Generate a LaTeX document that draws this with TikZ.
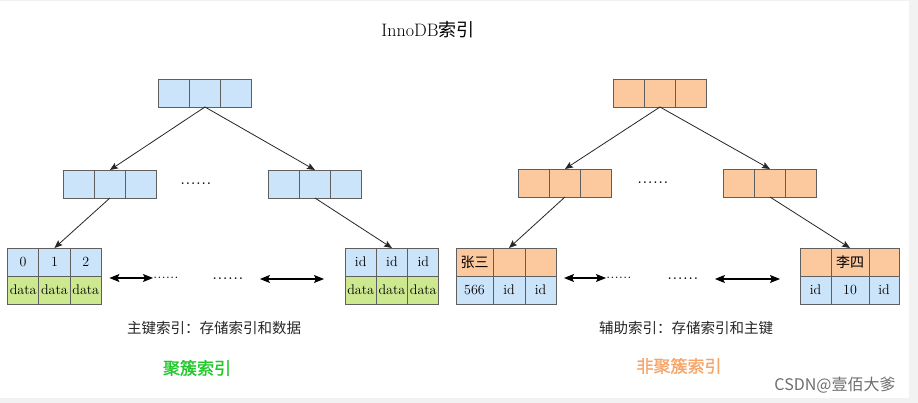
\documentclass[tikz,border=0pt]{standalone}
\usepackage{fontspec}
\newfontfamily\cjk{Noto Sans CJK SC}
\newfontfamily\cjkbold{Noto Sans CJK SC}[FakeBold=1.2]
\usetikzlibrary{arrows.meta,positioning}
\definecolor{idxblue}{RGB}{204,228,250}
\definecolor{idxgreen}{RGB}{205,233,143}
\definecolor{idxorange}{RGB}{252,200,158}
\definecolor{cellline}{RGB}{95,95,95}
\definecolor{labelgreen}{RGB}{30,200,40}
\definecolor{labelorange}{RGB}{246,165,105}
\definecolor{edgegray}{RGB}{242,242,242}
\definecolor{markgray}{RGB}{110,110,110}
\tikzset{
  cell/.style={draw=cellline, line width=0.9pt, minimum width=31.3pt, minimum height=28pt,
    inner sep=0pt, outer sep=0pt, font=\fontsize{14}{16}\selectfont},
  bluecell/.style={cell, fill=idxblue},
  greencell/.style={cell, fill=idxgreen},
  orangecell/.style={cell, fill=idxorange},
  treearrow/.style={->, line width=0.8pt, draw=black!85},
  linkarrow/.style={{Stealth[length=10pt, width=8pt, inset=2pt]}-{Stealth[length=10pt, width=8pt, inset=2pt]}, line width=1.2pt},
  dots/.style={inner sep=0pt, anchor=west, font=\fontsize{21}{21}\selectfont},
  smalldots/.style={inner sep=0pt, anchor=west, font=\fontsize{17}{17}\selectfont},
  caption/.style={inner sep=0pt, font=\cjk\fontsize{14.5}{16}\selectfont, text=black!85}
}
\begin{document}
\begin{tikzpicture}[x=1pt, y=-1pt, >={Stealth[length=8pt, width=6.5pt, inset=1.5pt]}]
        \fill [edgegray] (0, 0) rectangle (918, 403);
        \fill [white] (0, 1.5) rectangle (909, 398);
        \useasboundingbox (0, 0) rectangle (918, 403);

        \node [font=\fontsize{18}{20}\selectfont] (title) at (428, 30) {InnoDB{\cjk 索引}};

        \node [bluecell, anchor=north west] (lt1) at (158, 79) {};
        \node [bluecell, right=0pt of lt1] (lt2) {};
        \node [bluecell, right=0pt of lt2] (lt3) {};

        \node [bluecell, anchor=north west] (lm1) at (63, 170) {};
        \node [bluecell, right=0pt of lm1] (lm2) {};
        \node [bluecell, right=0pt of lm2] (lm3) {};
        \node [dots] (lmdot) at (180, 184) {......};
        \node [bluecell, anchor=north west] (ln1) at (268, 170) {};
        \node [bluecell, right=0pt of ln1] (ln2) {};
        \node [bluecell, right=0pt of ln2] (ln3) {};

        \node [bluecell, anchor=north west] (la1) at (7.5, 248) {0};
        \node [bluecell, right=0pt of la1] (la2) {1};
        \node [bluecell, right=0pt of la2] (la3) {2};
        \node [greencell, below=0pt of la1] (lb1) {data};
        \node [greencell, below=0pt of la2] (lb2) {data};
        \node [greencell, below=0pt of la3] (lb3) {data};

        \node [bluecell, anchor=north west] (ra1) at (345, 248) {id};
        \node [bluecell, right=0pt of ra1] (ra2) {id};
        \node [bluecell, right=0pt of ra2] (ra3) {id};
        \node [greencell, below=0pt of ra1] (rb1) {data};
        \node [greencell, below=0pt of ra2] (rb2) {data};
        \node [greencell, below=0pt of ra3] (rb3) {data};

        \draw [treearrow] (lt2.south) -- (lm2.north);
        \draw [treearrow] (lt2.south) -- (ln2.north);
        \draw [treearrow] (lm2.south) -- (la2.north);
        \draw [treearrow] (ln2.south) -- (ra2.north);

        \node [smalldots] (ldot1) at (153, 278) {......};
        \node [dots] (ldot2) at (212, 279) {......};
        \draw [linkarrow] ([shift={(8,2)}]la3.south east) -- (ldot1.west);
        \draw [linkarrow] ([xshift=16pt]ldot2.east) -- ([shift={(-21,3)}]ra1.south west);

        \node [caption] (capl) at (214, 328) {主键索引：存储索引和数据};
        \node [font=\cjkbold\fontsize{17}{19}\selectfont, text=labelgreen] (namel) at (197, 368) {聚簇索引};

        \node [orangecell, anchor=north west] (st1) at (613, 79) {};
        \node [orangecell, right=0pt of st1] (st2) {};
        \node [orangecell, right=0pt of st2] (st3) {};

        \node [orangecell, anchor=north west] (sm1) at (518, 169) {};
        \node [orangecell, right=0pt of sm1] (sm2) {};
        \node [orangecell, right=0pt of sm2] (sm3) {};
        \node [dots] (smdot) at (637, 183) {......};
        \node [orangecell, anchor=north west] (sn1) at (723, 169) {};
        \node [orangecell, right=0pt of sn1] (sn2) {};
        \node [orangecell, right=0pt of sn2] (sn3) {};

        \node [orangecell, minimum width=37pt, anchor=north west] (sa1) at (456, 248) {\cjk 张三\hspace{4pt}};
        \node [orangecell, minimum width=32pt, right=0pt of sa1] (sa2) {};
        \node [orangecell, minimum width=31pt, right=0pt of sa2] (sa3) {};
        \node [bluecell, minimum width=37pt, below=0pt of sa1] (sb1) {566};
        \node [bluecell, minimum width=32pt, below=0pt of sa2] (sb2) {id};
        \node [bluecell, minimum width=31pt, below=0pt of sa3] (sb3) {id};

        \node [orangecell, minimum width=31pt, anchor=north west] (ta1) at (800, 248) {};
        \node [orangecell, minimum width=38pt, right=0pt of ta1] (ta2) {\cjk 李四};
        \node [orangecell, minimum width=30pt, right=0pt of ta2] (ta3) {};
        \node [bluecell, minimum width=31pt, below=0pt of ta1] (tb1) {id};
        \node [bluecell, minimum width=38pt, below=0pt of ta2] (tb2) {10};
        \node [bluecell, minimum width=30pt, below=0pt of ta3] (tb3) {id};

        \draw [treearrow] (st2.south) -- (sm2.north);
        \draw [treearrow] (st2.south) -- (sn2.north);
        \draw [treearrow] (sm2.south) -- (sa2.north);
        \draw [treearrow] (sn2.south) -- (ta2.north);

        \node [smalldots] (sdot1) at (606, 278) {......};
        \node [dots] (sdot2) at (667, 279) {......};
        \draw [linkarrow] ([shift={(8,2)}]sa3.south east) -- (sdot1.west);
        \draw [linkarrow] ([xshift=16pt]sdot2.east) -- ([shift={(-20,3)}]ta1.south west);

        \node [caption] (capr) at (686, 328) {辅助索引：存储索引和主键};
        \node [font=\cjkbold\fontsize{17}{19}\selectfont, text=labelorange] (namer) at (679, 366) {非聚簇索引};

        \node [font=\cjk\fontsize{16}{18}\selectfont, text=markgray] (mark) at (835, 385) {CSDN@壹佰大爹};
      \end{tikzpicture}
\end{document}
